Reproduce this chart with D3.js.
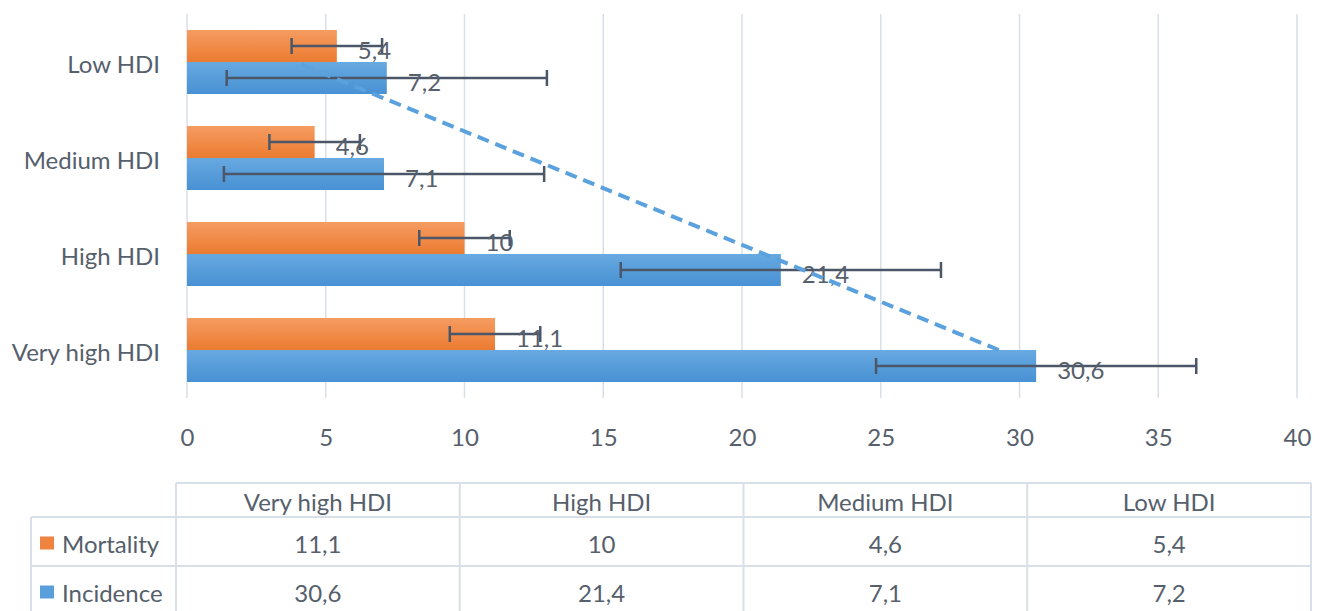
<!DOCTYPE html>
<html>
<head>
<meta charset="utf-8">
<script src="https://cdn.jsdelivr.net/npm/d3@7"></script>
<style>
  html, body { margin: 0; padding: 0; background: #ffffff; }
  svg { display: block; font-family: Lato, "Open Sans", sans-serif; }
</style>
</head>
<body>
<svg id="chart" width="1320" height="611"></svg>
<script>
// Categories in data order (bar chart draws them bottom-up)
const categories = ["Very high HDI", "High HDI", "Medium HDI", "Low HDI"];
const seriesNames = ["Mortality", "Incidence"];
const mortality = [11.1, 10, 4.6, 5.4];
const incidence = [30.6, 21.4, 7.1, 7.2];
// Error amounts (± per series)
const mortalityError = 1.63;
const incidenceError = 5.77;
const xTicks = [0, 5, 10, 15, 20, 25, 30, 35, 40];

const textColor = "#56606c";
const gridColor = "#d9dfe8";
const errColor = "#4b5768";
const fontSize = 24;

const svg = d3.select("#chart");
const defs = svg.append("defs");

function gradient(id, top, bottom) {
  const g = defs.append("linearGradient").attr("id", id)
    .attr("x1", 0).attr("y1", 0).attr("x2", 0).attr("y2", 1);
  g.append("stop").attr("offset", "0%").attr("stop-color", top);
  g.append("stop").attr("offset", "100%").attr("stop-color", bottom);
}
gradient("gradMortality", "#f59c62", "#ec7b30");
gradient("gradIncidence", "#67a9e1", "#4891d3");

const series = [
  { name: seriesNames[0], values: mortality, err: mortalityError, fill: "url(#gradMortality)", swatch: "#ef8440" },
  { name: seriesNames[1], values: incidence, err: incidenceError, fill: "url(#gradIncidence)", swatch: "#5a9fdb" }
];

const fmt = v => String(v).replace(".", ",");

// Scales
const x = d3.scaleLinear().domain([0, 40]).range([187, 1297]);
const y = d3.scaleBand().domain(categories).range([398, 14])
  .paddingInner(1 / 3).paddingOuter(1 / 6);
const ySub = d3.scaleBand().domain(seriesNames).range([0, y.bandwidth()]);

// Vertical gridlines
svg.append("g").selectAll("line").data(xTicks).join("line")
  .attr("x1", d => x(d)).attr("x2", d => x(d))
  .attr("y1", 14).attr("y2", 398)
  .attr("stroke", gridColor).attr("stroke-width", 1.5);

// Value axis labels
const xAxis = d3.axisBottom(x).tickValues(xTicks).tickSize(0).tickPadding(0).tickFormat(fmt);
const axisG = svg.append("g").attr("transform", "translate(0,428)").call(xAxis);
axisG.select(".domain").remove();
axisG.selectAll("text")
  .attr("font-family", "Lato, 'Open Sans', sans-serif")
  .attr("font-size", fontSize).attr("fill", textColor)
  .attr("dy", "0.33em").attr("y", 10);

// Category labels
const yAxis = d3.axisLeft(y).tickSize(0).tickPadding(0);
const yAxisG = svg.append("g").attr("transform", "translate(160,0)").call(yAxis);
yAxisG.select(".domain").remove();
yAxisG.selectAll("text")
  .attr("font-family", "Lato, 'Open Sans', sans-serif")
  .attr("font-size", fontSize).attr("fill", textColor)
  .attr("dy", "0.47em");

// Bars
const groups = svg.append("g").selectAll("g").data(categories).join("g")
  .attr("transform", c => `translate(0,${y(c)})`);

groups.each(function (c, i) {
  const g = d3.select(this);
  series.forEach(s => {
    const v = s.values[i];
    g.append("rect")
      .attr("x", x(0)).attr("y", ySub(s.name))
      .attr("width", x(v) - x(0)).attr("height", ySub.bandwidth())
      .attr("fill", s.fill);
  });
});

// Error bars and data labels
groups.each(function (c, i) {
  const g = d3.select(this);
  series.forEach(s => {
    const v = s.values[i];
    const cy = ySub(s.name) + ySub.bandwidth() / 2;
    const lo = x(v - s.err), hi = x(v + s.err);
    g.append("line").attr("x1", lo).attr("x2", hi).attr("y1", cy).attr("y2", cy)
      .attr("stroke", errColor).attr("stroke-width", 2.5);
    [lo, hi].forEach(px => {
      g.append("line").attr("x1", px).attr("x2", px).attr("y1", cy - 8).attr("y2", cy + 8)
        .attr("stroke", errColor).attr("stroke-width", 2.5);
    });
    g.append("text")
      .attr("x", x(v) + 21).attr("y", cy + 5)
      .attr("dy", "0.35em")
      .attr("font-size", fontSize).attr("fill", textColor)
      .text(fmt(v));
  });
});

// Linear trendline of Incidence over category position
const n = incidence.length;
const idx = d3.range(1, n + 1);
const mx = d3.mean(idx), my = d3.mean(incidence);
const slope = d3.sum(idx, (k, j) => (k - mx) * (incidence[j] - my)) / d3.sum(idx, k => (k - mx) ** 2);
const intercept = my - slope * mx;
const trendPts = [0, n - 1].map(j => ({
  v: intercept + slope * (j + 1),
  cy: y(categories[j]) + y.bandwidth() / 2
}));
svg.append("path")
  .attr("d", d3.line().x(p => x(p.v)).y(p => p.cy)(trendPts))
  .attr("fill", "none").attr("stroke", "#5aa1dd")
  .attr("stroke-width", 4).attr("stroke-dasharray", "12 7");

// Data table
const tableLeft = 176, tableRight = 1311, legendLeft = 31;
const rowLines = [483, 517, 566, 615];
const colX = d3.scaleBand().domain(categories).range([tableLeft, tableRight]);
const table = svg.append("g");
const lineAttrs = sel => sel.attr("stroke", gridColor).attr("stroke-width", 2).attr("fill", "none");

// Header row
table.append("line").attr("x1", tableLeft).attr("x2", tableRight).attr("y1", rowLines[0]).attr("y2", rowLines[0]).call(lineAttrs);
// Body row lines (include legend column)
rowLines.slice(1).forEach(ry => {
  table.append("line").attr("x1", legendLeft).attr("x2", tableRight).attr("y1", ry).attr("y2", ry).call(lineAttrs);
});
// Column lines
categories.concat([null]).forEach(c => {
  const cx = c === null ? tableRight : colX(c);
  table.append("line").attr("x1", cx).attr("x2", cx).attr("y1", rowLines[0]).attr("y2", rowLines[3]).call(lineAttrs);
});
table.append("line").attr("x1", legendLeft).attr("x2", legendLeft).attr("y1", rowLines[1]).attr("y2", rowLines[3]).call(lineAttrs);

// Header text
table.selectAll("text.head").data(categories).join("text").attr("class", "head")
  .attr("x", c => colX(c) + colX.bandwidth() / 2)
  .attr("y", (rowLines[0] + rowLines[1]) / 2 + 3)
  .attr("dy", "0.35em").attr("text-anchor", "middle")
  .attr("font-size", fontSize).attr("fill", textColor)
  .text(c => c);

// Body rows
series.forEach((s, r) => {
  const cy = (rowLines[r + 1] + rowLines[r + 2]) / 2 + 3;
  table.append("rect").attr("x", 40).attr("y", cy - 8).attr("width", 14).attr("height", 13)
    .attr("fill", s.swatch);
  table.append("text").attr("x", 62).attr("y", cy).attr("dy", "0.35em")
    .attr("font-size", fontSize).attr("fill", textColor).text(s.name);
  categories.forEach((c, i) => {
    table.append("text")
      .attr("x", colX(c) + colX.bandwidth() / 2).attr("y", cy)
      .attr("dy", "0.35em").attr("text-anchor", "middle")
      .attr("font-size", fontSize).attr("fill", textColor)
      .text(fmt(s.values[i]));
  });
});
</script>
</body>
</html>
